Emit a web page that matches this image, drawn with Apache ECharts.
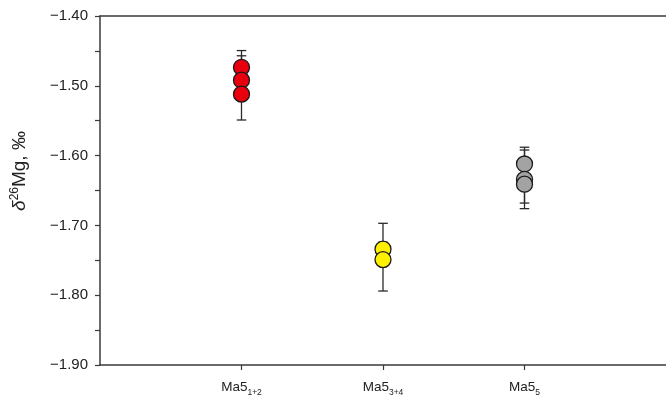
<!DOCTYPE html>
<html><head><meta charset="utf-8">
<script src="https://cdn.jsdelivr.net/npm/echarts@6/dist/echarts.min.js"></script>
<style>html,body{margin:0;padding:0;background:#fff}#c{width:666px;height:397px}</style>
</head><body><div id="c"></div>
<script>
// ---- data ----
const catX = [1, 2, 3];
const catMain = ['Ma5', 'Ma5', 'Ma5'];
const catSub = ['1+2', '3+4', '5'];
const yTicks = [-1.9, -1.8, -1.7, -1.6, -1.5, -1.4];

const redVal  = [-1.4735, -1.492, -1.512];
const redLow  = [-1.497, -1.515, -1.549];
const redHigh = [-1.4495, -1.457, -1.480];

const yelVal  = [-1.734, -1.749];
const yelLow  = [-1.745, -1.794];
const yelHigh = [-1.724, -1.697];

const grayVal  = [-1.612, -1.634, -1.641];
const grayLow  = [-1.636, -1.676, -1.668];
const grayHigh = [-1.588, -1.592, -1.614];

function pts(x, vals) { return vals.map(v => [x, v]); }
function errs(x, lo, hi) { return lo.map((l, i) => [x, l, hi[i]]); }

const errData = [].concat(
  errs(catX[0], redLow, redHigh),
  errs(catX[1], yelLow, yelHigh),
  errs(catX[2], grayLow, grayHigh)
);

const axisColor = '#3a3a3a';
const font = 'Liberation Sans, Arial, sans-serif';

const chart = echarts.init(document.getElementById('c'));
chart.setOption({
  animation: false,
  backgroundColor: '#fff',
  grid: { left: 100, right: 0, top: 16, bottom: 32 },
  xAxis: [{
    type: 'value', min: 0, max: 4, interval: 1,
    splitLine: { show: false },
    axisLine: { show: true, lineStyle: { color: axisColor, width: 1.5 } },
    axisTick: { show: true, length: 5, customValues: catX, lineStyle: { color: axisColor, width: 1.2 } },
    axisLabel: {
      customValues: catX, margin: 13,
      formatter: v => { const i = catX.indexOf(v); return i < 0 ? '' : '{m|' + catMain[i] + '}{s|' + catSub[i] + '}'; },
      rich: {
        m: { fontSize: 13.5, fontFamily: font, color: '#222', verticalAlign: 'bottom', lineHeight: 16 },
        s: { fontSize: 8.5, fontFamily: font, color: '#222', verticalAlign: 'bottom', lineHeight: 16, padding: [0, 0, -3, 0] }
      }
    }
  }, {
    type: 'value', min: 0, max: 4, position: 'top',
    splitLine: { show: false }, axisTick: { show: false }, axisLabel: { show: false },
    axisLine: { show: true, lineStyle: { color: axisColor, width: 1.5 } }
  }],
  yAxis: {
    type: 'value', min: yTicks[0], max: yTicks[yTicks.length - 1], interval: 0.1,
    splitLine: { show: false },
    axisLine: { show: true, lineStyle: { color: axisColor, width: 1.5 } },
    axisTick: { show: true, length: 5, lineStyle: { color: axisColor, width: 1.2 } },
    minorTick: { show: true, splitNumber: 2, length: 5, lineStyle: { color: axisColor, width: 1.2 } },
    axisLabel: {
      margin: 12, fontSize: 15, fontFamily: font, color: '#222',
      formatter: v => (v < 0 ? '\u2212' : '') + Math.abs(v).toFixed(2)
    }
  },
  graphic: [{
    type: 'text', x: 19, y: 171, rotation: Math.PI / 2,
    style: {
      text: '{i|δ}{p|26}{n|Mg, ‰}',
      align: 'center', verticalAlign: 'middle',
      rich: {
        i: { fontSize: 19, fontStyle: 'italic', fontFamily: font, fill: '#222', verticalAlign: 'bottom', lineHeight: 20 },
        p: { fontSize: 12, fontFamily: font, fill: '#222', verticalAlign: 'top', lineHeight: 20 },
        n: { fontSize: 19, fontFamily: font, fill: '#222', verticalAlign: 'bottom', lineHeight: 20 }
      }
    }
  }],
  series: [{
    type: 'custom', z: 1,
    data: errData,
    encode: { x: 0, y: [1, 2] },
    renderItem: (params, api) => {
      const x = api.value(0);
      const lo = api.coord([x, api.value(1)]);
      const hi = api.coord([x, api.value(2)]);
      const w = 4.8;
      const st = { stroke: '#2a2a2a', lineWidth: 1.3 };
      return { type: 'group', children: [
        { type: 'line', shape: { x1: lo[0], y1: lo[1], x2: hi[0], y2: hi[1] }, style: st },
        { type: 'line', shape: { x1: lo[0] - w, y1: lo[1], x2: lo[0] + w, y2: lo[1] }, style: st },
        { type: 'line', shape: { x1: hi[0] - w, y1: hi[1], x2: hi[0] + w, y2: hi[1] }, style: st }
      ] };
    }
  }, {
    type: 'scatter', z: 3, symbolSize: 16,
    data: pts(catX[0], redVal),
    itemStyle: { color: '#e8000f', borderColor: '#1a1a1a', borderWidth: 1.3, opacity: 1 }
  }, {
    type: 'scatter', z: 3, symbolSize: 16,
    data: pts(catX[1], yelVal),
    itemStyle: { color: '#fff000', borderColor: '#1a1a1a', borderWidth: 1.3, opacity: 1 }
  }, {
    type: 'scatter', z: 3, symbolSize: 16,
    data: pts(catX[2], grayVal),
    itemStyle: { color: '#a3a3a3', borderColor: '#1a1a1a', borderWidth: 1.3, opacity: 1 }
  }]
});
</script></body></html>
